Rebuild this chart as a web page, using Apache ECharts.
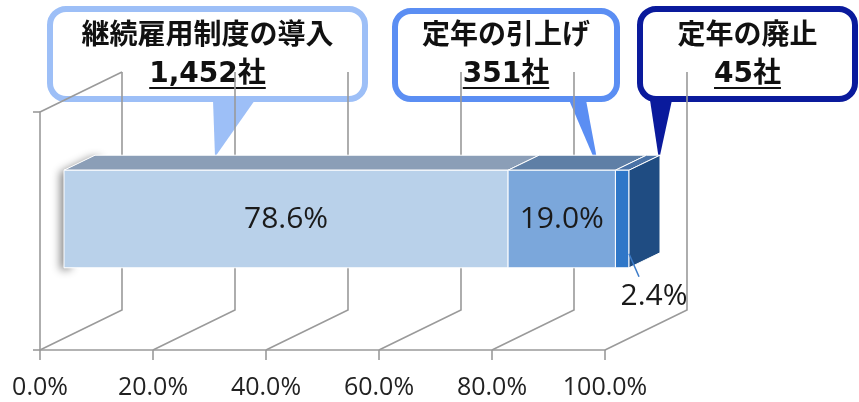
<!DOCTYPE html>
<html>
<head>
<meta charset="utf-8">
<script src="https://cdn.jsdelivr.net/npm/echarts@6.0.0/dist/echarts.min.js"></script>
<style>
  html, body { margin: 0; padding: 0; background: #fff; }
  #chart { width: 859px; height: 402px; }
</style>
</head>
<body>
<div id="chart"></div>
<script>
// 対応の内訳
const categories = ['継続雇用制度の導入', '定年の引上げ', '定年の廃止'];
const companies = [1452, 351, 45];
const shares = [78.6, 19.0, 2.4];
const xTicks = [0, 20, 40, 60, 80, 100];

// 3D look
const DEPTH = [82, -40];      // floor depth (back wall offset)
const BAR_OFF = [24, -12];    // bar front face offset into depth
const BAR_DEPTH = [31, -15];  // bar thickness
const frontColors = ['#B9D1EA', '#7BA7DB', '#2F77C8'];
const topColors = ['#8B9EB7', '#5F7FA6', '#4A72A6'];
const sideColor = '#1F4C82';
const gridColor = '#9A9A9A';
const numFont = '"Open Sans", "DejaVu Sans", sans-serif';
const jpFont = '"DejaVu Sans", "Noto Sans CJK JP", sans-serif';

// 積み上げ
let acc = 0;
const segments = shares.map((v, i) => {
  const seg = [acc, acc + v, i];
  acc += v;
  return seg;
});

// 吹き出し
const callouts = [
  { x: 50, y: 9, w: 315, h: 90, color: '#9DBFF7', base: [213, 255], tip: [215, 157] },
  { x: 395, y: 11, w: 222, h: 88, color: '#5B8EF3', base: [569, 586], tip: [599, 170] },
  { x: 640, y: 9, w: 215, h: 90, color: '#0A1A9C', base: [650, 672], tip: [659, 160] }
];

const measureCtx = document.createElement('canvas').getContext('2d');
function textWidth(txt, font) {
  measureCtx.font = font;
  return measureCtx.measureText(txt).width;
}

function renderFrame(params, api) {
  const cs = params.coordSys;
  const x = api.coord([api.value(0), 0])[0];
  const yFloor = cs.y + cs.height;
  const yTop = cs.y;
  const lineStyle = { stroke: gridColor, lineWidth: 1.6, fill: null };
  const children = [{
    type: 'polyline',
    shape: { points: [[x, yFloor], [x + DEPTH[0], yFloor + DEPTH[1]], [x + DEPTH[0], yTop + DEPTH[1]]] },
    style: lineStyle
  }];
  if (api.value(0) === 0) {
    children.push({
      type: 'line',
      shape: { x1: x, y1: yTop, x2: x + DEPTH[0], y2: yTop + DEPTH[1] },
      style: lineStyle
    });
  }
  return { type: 'group', children };
}

function renderBar(params, api) {
  const s = api.value(0), e = api.value(1), i = api.value(2);
  const p0 = api.coord([s, 0]);
  const p1 = api.coord([e, 0]);
  const h = api.size([0, 1])[1] * 0.41;
  const x0 = p0[0] + BAR_OFF[0], x1 = p1[0] + BAR_OFF[0];
  const yT = p0[1] + BAR_OFF[1] - h / 2, yB = yT + h;
  const dx = BAR_DEPTH[0], dy = BAR_DEPTH[1];
  const children = [];
  if (i === 0) {
    // soft shadow along the left edge
    children.push({
      type: 'polygon',
      shape: { points: [[x0, yB], [x0, yT], [x0 + dx, yT + dy], [x0 + dx + 10, yT + dy], [x0 + 10, yB]] },
      style: { fill: '#fff', shadowBlur: 9, shadowOffsetX: -4, shadowOffsetY: 2, shadowColor: 'rgba(0,0,0,0.45)' }
    });
  }
  children.push(
    {
      type: 'polygon',
      shape: { points: [[x0, yT], [x1, yT], [x1 + dx, yT + dy], [x0 + dx, yT + dy]] },
      style: { fill: topColors[i], stroke: '#fff', lineWidth: 1 }
    },
    {
      type: 'rect',
      shape: { x: x0, y: yT, width: x1 - x0, height: h },
      style: { fill: frontColors[i], stroke: '#fff', lineWidth: 1 }
    }
  );
  if (i === shares.length - 1) {
    children.push({
      type: 'polygon',
      shape: { points: [[x1, yT], [x1 + dx, yT + dy], [x1 + dx, yB + dy], [x1, yB]] },
      style: { fill: sideColor, stroke: '#fff', lineWidth: 1 }
    });
  }
  const label = shares[i].toFixed(1) + '%';
  if (shares[i] > 10) {
    children.push({
      type: 'text',
      style: {
        text: label, x: (x0 + x1) / 2, y: (yT + yB) / 2,
        align: 'center', verticalAlign: 'middle',
        font: '30px ' + numFont, fill: '#1a1a1a'
      }
    });
  } else {
    children.push({
      type: 'line',
      shape: { x1: x1, y1: yB - 14, x2: x1 + 10, y2: yB + 9 },
      style: { stroke: '#3D7CC9', lineWidth: 1.5 }
    });
    children.push({
      type: 'text',
      style: {
        text: label, x: x1 + 25, y: yB + 29,
        align: 'center', verticalAlign: 'middle',
        font: '30px ' + numFont, fill: '#1a1a1a'
      }
    });
  }
  return { type: 'group', children };
}

// 吹き出しのグラフィック
const graphics = [];
callouts.forEach((c, i) => {
  const cx = c.x + c.w / 2;
  const line2 = companies[i].toLocaleString('en-US') + '社';
  const font2 = 'bold 28px ' + jpFont;
  const w2 = textWidth(line2, font2);
  graphics.push({
    type: 'group',
    z: 100,
    children: [
      {
        type: 'rect',
        shape: { x: c.x, y: c.y, width: c.w, height: c.h, r: 16 },
        style: { fill: '#fff', stroke: c.color, lineWidth: 6 }
      },
      {
        type: 'polygon',
        shape: { points: [[c.base[0], c.y + c.h + 1], [c.base[1], c.y + c.h + 1], c.tip] },
        style: { fill: c.color }
      },
      {
        type: 'text',
        style: {
          text: categories[i], x: cx, y: 37, align: 'center', verticalAlign: 'middle',
          font: 'bold 28px ' + jpFont, fill: '#111'
        }
      },
      {
        type: 'text',
        style: {
          text: line2, x: cx, y: 75, align: 'center', verticalAlign: 'middle',
          font: font2, fill: '#111'
        }
      },
      {
        type: 'line',
        shape: { x1: cx - w2 / 2, y1: 88, x2: cx + w2 / 2, y2: 88 },
        style: { stroke: '#111', lineWidth: 2 }
      }
    ]
  });
});

const chart = echarts.init(document.getElementById('chart'));
chart.setOption({
  animation: false,
  grid: { left: 40, top: 112, width: 565, height: 238 },
  xAxis: {
    type: 'value',
    min: 0,
    max: 100,
    interval: 20,
    axisLine: { show: true, lineStyle: { color: gridColor, width: 1.6 } },
    axisTick: { show: true, length: 10, lineStyle: { color: gridColor, width: 1.6 } },
    splitLine: { show: false },
    axisLabel: {
      margin: 25,
      fontSize: 25,
      fontFamily: numFont,
      color: '#222',
      formatter: v => v.toFixed(1) + '%'
    }
  },
  yAxis: {
    type: 'category',
    data: ['対応'],
    axisLine: { show: true, lineStyle: { color: gridColor, width: 1.6 } },
    axisTick: { show: true, length: 7, lineStyle: { color: gridColor, width: 1.6 } },
    axisLabel: { show: false },
    splitLine: { show: false }
  },
  series: [
    {
      type: 'custom',
      name: 'frame',
      clip: false,
      z: 1,
      renderItem: renderFrame,
      encode: { x: 0 },
      data: xTicks.map(v => [v])
    },
    {
      type: 'custom',
      name: 'share',
      clip: false,
      z: 2,
      renderItem: renderBar,
      encode: { x: [0, 1] },
      data: segments
    }
  ],
  graphic: graphics
});
</script>
</body>
</html>
